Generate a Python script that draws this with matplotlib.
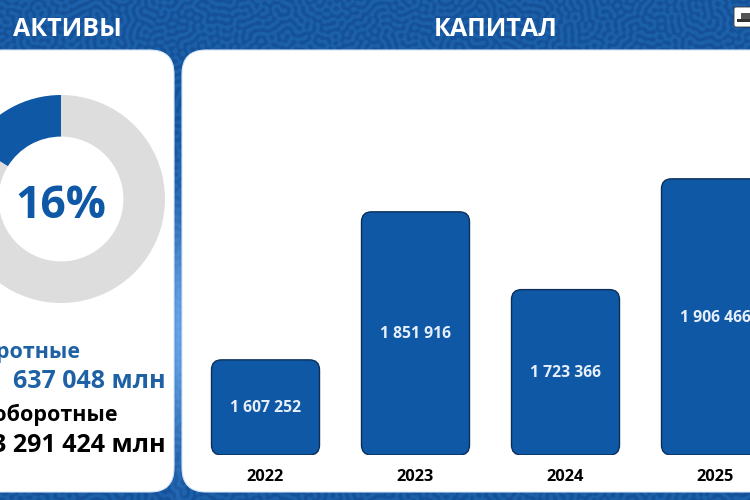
import numpy as np
import matplotlib
matplotlib.use("Agg")
import matplotlib.pyplot as plt
from matplotlib.patches import FancyBboxPatch, Rectangle

plt.rcParams["font.family"] = ["Open Sans", "DejaVu Sans"]

years = ["2022", "2023", "2024", "2025"]
capital = [1607252, 1851916, 1723366, 1906466]
capital_labels = ["1 607 252", "1 851 916", "1 723 366", "1 906 466"]
share_labels = ["Оборотные", "Внеоборотные"]
share_values = [637048, 3291424]
share_texts = ["637 048 млн", "3 291 424 млн"]
donut_label = "16%"
titles = ["АКТИВЫ", "КАПИТАЛ"]

BLUE = "#0f58a5"
GREY = "#dddddd"
W, H = 750, 500

fig = plt.figure(figsize=(7.5, 5), dpi=100)
bg = fig.add_axes([0, 0, 1, 1])
bg.set_xlim(0, W)
bg.set_ylim(H, 0)
bg.axis("off")

# labyrinth texture: hashed start field, then band-pass and sharpen a few times
yy, xx = np.mgrid[0:H * 2, 0:W * 2].astype(float)
u = np.sin(xx * 12.9898 + yy * 78.233) * 43758.5453
u = u - np.floor(u) - 0.5
fy = np.fft.fftfreq(H * 2)[:, None]
fx = np.fft.fftfreq(W * 2)[None, :]
band = np.exp(-((np.hypot(fx, fy) - 1 / 14) / 0.02) ** 2)
for i in range(4):
    u = np.fft.ifft2(np.fft.fft2(u) * band).real
    u = np.tanh(3 * u / u.std())
mask = np.clip(u * 0.5 + 0.5, 0, 1)[..., None]
tex = mask * np.array([0.08, 0.32, 0.60]) + (1 - mask) * np.array([0.11, 0.38, 0.67])

# the gap between the panels gets lighter towards the lower part
glow = np.exp(-((yy / 2 - 330) / 110) ** 2) * np.exp(-((xx / 2 - 178) / 7) ** 2) * 0.75
glow = glow[..., None]
tex = tex * (1 - glow) + np.array([0.50, 0.74, 1.0]) * glow
bg.imshow(tex, extent=(0, W, H, 0), aspect="auto", interpolation="bilinear", zorder=0)
bg.set_xlim(0, W)
bg.set_ylim(H, 0)

# white panels
for x0, x1 in [(-40, 174), (182, 800)]:
    bg.add_patch(FancyBboxPatch((x0 + 24, 50 + 24), x1 - x0 - 48, 442 - 48,
                                boxstyle="round,pad=24,rounding_size=24",
                                fc="white", ec="#d5e6f8", lw=0.8, zorder=2))

bg.text(67, 29.5, titles[0], color="white", fontsize=18, fontweight="bold", ha="center", va="center", zorder=3)
bg.text(496, 29.5, titles[1], color="white", fontsize=18, fontweight="bold", ha="center", va="center", zorder=3)

# icon in the corner
bg.add_patch(FancyBboxPatch((734, 7), 30, 20, boxstyle="round,pad=0,rounding_size=2", fc="white", ec="#333333", lw=0.6, zorder=3))
bg.add_patch(Rectangle((737, 19), 13, 3, fc="#333333", ec="none", zorder=4))
bg.add_patch(Rectangle((741, 13), 9, 6, fc="#555555", ec="none", zorder=4))

# donut
donut = fig.add_axes([(61 - 104) / W, 1 - (199 + 104) / H, 208 / W, 208 / H])
donut.pie(share_values, colors=[BLUE, GREY], startangle=90, counterclock=True, radius=1,
          wedgeprops=dict(width=0.40, linewidth=0))
donut.set_xlim(-1, 1)
donut.set_ylim(-1, 1)
donut.text(0, -0.07, donut_label, color=BLUE, fontsize=32, fontweight="bold", ha="center", va="center")

bg.text(81, 352, share_labels[0], color="#1e62a5", fontsize=15.5, fontweight="bold", ha="right", va="center", zorder=3)
bg.text(166, 382, share_texts[0], color="#1e62a5", fontsize=18, fontweight="bold", ha="right", va="center", zorder=3)
bg.text(118, 415, share_labels[1], color="black", fontsize=15.5, fontweight="bold", ha="right", va="center", zorder=3)
bg.text(166, 445, share_texts[1], color="black", fontsize=18, fontweight="bold", ha="right", va="center", zorder=3)

# bars, each year is 150 px wide and the axis starts well above zero
ax = fig.add_axes([190.5 / W, 1 - 455 / H, 559.5 / W, 405 / H])
ax.patch.set_alpha(0)
ax.set_xlim(-0.5, -0.5 + 559.5 / 150)
ax.set_ylim(1450000, 1450000 + 405 / 6.05e-4)
ax.axis("off")
bars = ax.bar(range(len(years)), capital, width=0.72, bottom=0, color="none")
r = 10 / 150
for b, label, year in zip(bars, capital_labels, years):
    left = b.get_x()
    w = b.get_width()
    top = b.get_height()
    low = ax.get_ylim()[0]
    asp = (1 / 6.05e-4) * 150
    ax.add_patch(FancyBboxPatch((left, low), w, top - low,
                                boxstyle=f"round,pad=0,rounding_size={r}", mutation_aspect=asp,
                                fc=BLUE, ec="#0b2f57", lw=1.0, clip_on=True))
    cx = left + w / 2
    ax.annotate(label, (cx, (top + low) / 2), xytext=(0, -0.7), textcoords="offset points", color="#e6effa",
                fontsize=11.3, fontweight="bold", ha="center", va="center")
    ax.annotate(year, (cx, low), xytext=(0, -15.5), textcoords="offset points", color="black",
                fontsize=11.8, fontweight="bold", ha="center", va="center", annotation_clip=False)

fig.savefig("out.png", dpi=100)
